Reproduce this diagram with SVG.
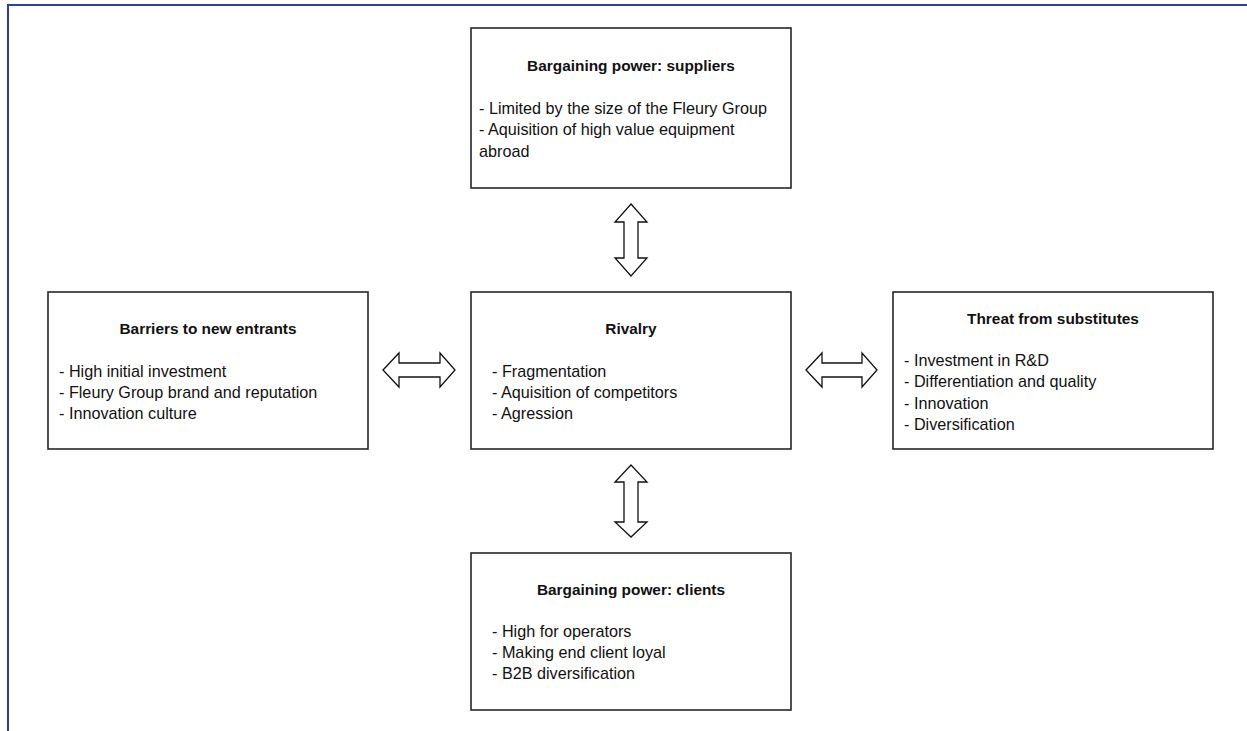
<svg xmlns="http://www.w3.org/2000/svg" width="1247" height="731" viewBox="0 0 1247 731">
<style>
.box{fill:#fff;stroke:#262626;stroke-width:1.6}
.t{font-family:"Liberation Sans",Arial,sans-serif;font-size:16.2px;fill:#111}
.b{font-weight:bold;text-anchor:middle;font-size:15.4px}
.arr{fill:#fff;stroke:#111;stroke-width:1.3;stroke-linejoin:miter}
.frame{stroke:#2e3f9f;stroke-width:2;fill:none}
</style>
<rect width="1247" height="731" fill="#fff"/>
<path class="frame" d="M8,731 V5 H1247"/>
<g id="suppliers">
<rect class="box" x="471" y="28" width="320" height="160"/>
<text class="t b" x="631" y="71">Bargaining power: suppliers</text>
<text class="t" x="479" y="114">- Limited by the size of the Fleury Group</text>
<text class="t" x="479" y="135">- Aquisition of high value equipment</text>
<text class="t" x="479" y="157">abroad</text>
</g>
<g id="entrants">
<rect class="box" x="48" y="292" width="320" height="157"/>
<text class="t b" x="208" y="334">Barriers to new entrants</text>
<text class="t" x="59" y="377">- High initial investment</text>
<text class="t" x="59" y="398">- Fleury Group brand and reputation</text>
<text class="t" x="59" y="419">- Innovation culture</text>
</g>
<g id="rivalry">
<rect class="box" x="471" y="292" width="320" height="157"/>
<text class="t b" x="631" y="334">Rivalry</text>
<text class="t" x="492" y="377">- Fragmentation</text>
<text class="t" x="492" y="398">- Aquisition of competitors</text>
<text class="t" x="492" y="419">- Agression</text>
</g>
<g id="substitutes">
<rect class="box" x="893" y="292" width="320" height="157"/>
<text class="t b" x="1053" y="324">Threat from substitutes</text>
<text class="t" x="904" y="366">- Investment in R&amp;D</text>
<text class="t" x="904" y="387">- Differentiation and quality</text>
<text class="t" x="904" y="409">- Innovation</text>
<text class="t" x="904" y="430">- Diversification</text>
</g>
<g id="clients">
<rect class="box" x="471" y="553" width="320" height="157"/>
<text class="t b" x="631" y="595">Bargaining power: clients</text>
<text class="t" x="492" y="637">- High for operators</text>
<text class="t" x="492" y="658">- Making end client loyal</text>
<text class="t" x="492" y="679">- B2B diversification</text>
</g>
<g id="connectors">
<polygon class="arr" points="631,204 647,222 638,222 638,258 647,258 631,276 615,258 624,258 624,222 615,222"/>
<polygon class="arr" points="631,465 647,482 638,482 638,522 647,522 631,537 615,522 624,522 624,482 615,482"/>
<polygon class="arr" points="383,370 399,353 399,363 440,363 440,353 455,370 440,387 440,377 399,377 399,387"/>
<polygon class="arr" points="806,370 822,353 822,363 862,363 862,353 877,370 862,387 862,377 822,377 822,387"/>
</g>
</svg>
